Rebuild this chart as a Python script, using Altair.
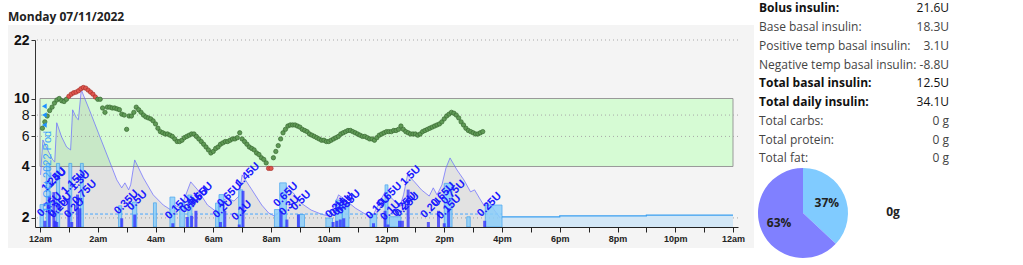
import altair as alt
import pandas as pd

# ---------------- layout ----------------
W, H = 703, 187
L, T = 35, 40

# ---------------- data ----------------
title_text = "Monday 07/11/2022"

# CGM readings (mmol/L), one every 5 minutes starting 00:05
bg_first_min = 5
bg_step_min = 5
bg_values = [
    6.7, 7.3, 7.9, 8.5, 8.9, 9.4, 9.8, 10.0, 9.7, 9.6, 9.9, 10.3,
    10.6, 10.8, 10.9, 11.1, 11.4, 11.6, 11.5, 11.2, 10.9, 10.6, 10.2, 9.9,
    9.9, 8.8, 8.3, 8.9, 8.9, 8.8, 8.8, 8.7, 8.6, 8.1, 8.0, 6.6,
    7.9, 7.9, 8.3, 8.9, 8.6, 8.3, 8.0, 7.8, 7.7, 7.6, 7.4, 7.1,
    6.7, 6.4, 6.3, 6.2, 6.2, 6.1, 6.0, 5.8, 5.6, 5.6, 5.7, 5.9,
    6.0, 6.1, 6.2, 6.2, 6.0, 5.8, 5.6, 5.4, 5.2, 5.0, 4.8, 4.9,
    5.1, 5.2, 5.4, 5.5, 5.6, 5.6, 5.7, 5.8, 5.8, 5.9, 6.3, 5.8,
    5.6, 5.4, 5.2, 5.1, 5.0, 4.8, 4.7, 4.5, 4.4, 4.2, 3.9, 3.9,
    4.5, 4.9, 5.3, 5.8, 6.3, 6.6, 6.9, 7.0, 7.0, 7.0, 6.9, 6.8,
    6.6, 6.5, 6.4, 6.2, 6.1, 6.0, 5.9, 5.8, 5.7, 5.7, 5.6, 5.6,
    5.7, 5.8, 5.9, 6.0, 6.2, 6.3, 6.4, 6.5, 6.5, 6.4, 6.3, 6.2,
    6.1, 6.0, 6.0, 5.9, 5.8, 5.8, 5.7, 5.9, 6.1, 6.2, 6.3, 6.4,
    6.4, 6.4, 6.5, 6.5, 6.6, 6.9, 6.6, 6.4, 6.3, 6.2, 6.2, 6.2,
    6.1, 6.2, 6.4, 6.5, 6.6, 6.7, 6.8, 6.9, 7.0, 7.1, 7.3, 7.6,
    7.9, 8.1, 8.3, 8.2, 8.0, 7.7, 7.3, 7.0, 6.7, 6.5, 6.4, 6.3,
    6.2, 6.2, 6.3, 6.4,
]

# insulin on board trace (hour of day, units)
iob_hours = [0.02, 0.10, 0.27, 0.44, 0.51, 0.58, 0.75, 0.92, 1.06, 1.13, 1.26, 1.33,
             1.43, 1.71, 2.05, 2.39, 2.66, 2.83, 2.94, 3.07, 3.14, 3.28, 3.58, 3.92,
             4.27, 4.54, 4.64, 4.88, 5.05, 5.22, 5.46, 5.80, 6.08, 6.25, 6.48, 6.72,
             6.89, 7.00, 7.34, 7.68, 7.92, 8.12, 8.29, 8.53, 8.77, 9.04, 9.39, 9.73,
             10.00, 10.17, 10.34, 10.58, 10.92, 11.26, 11.50, 11.71, 11.95, 12.18,
             12.46, 12.59, 12.73, 12.97, 13.21, 13.48, 13.62, 13.75, 13.92, 14.06,
             14.20, 14.44, 14.68, 14.91, 15.05, 15.26, 15.39, 15.53, 15.73, 15.94]
iob_units = [2.09, 3.49, 3.09, 2.69, 2.61, 4.18, 3.61, 3.21, 3.09, 4.70, 4.38, 4.30,
             5.50, 4.70, 3.69, 2.69, 1.89, 1.57, 1.77, 1.49, 1.69, 2.69, 1.97, 1.29,
             0.88, 0.68, 0.88, 0.76, 1.29, 1.81, 1.49, 0.88, 0.64, 1.00, 1.16, 1.04,
             1.24, 2.09, 1.49, 0.88, 0.56, 0.44, 0.60, 1.61, 1.37, 0.96, 0.68, 0.52,
             0.44, 0.80, 1.29, 1.08, 0.76, 0.52, 0.40, 0.88, 1.41, 1.16,
             0.80, 1.29, 2.09, 1.81, 1.49, 1.24, 1.57, 1.29, 1.69, 2.37,
             2.77, 2.29, 1.89, 1.41, 1.49, 1.08, 0.84, 1.08, 0.68, 0.36]

# boluses (hour of day, units)
bolus_hours = [0.17, 0.32, 0.48, 0.52, 0.58, 1.00, 1.10, 1.30, 1.38, 2.83, 3.28,
               4.60, 5.10, 5.25, 5.40, 6.25, 6.40, 6.90, 7.03, 8.35, 8.55, 8.95,
               10.15, 10.28, 10.40, 10.52, 11.55, 11.95, 12.05, 12.45, 12.55, 12.75,
               13.45, 13.80, 14.00, 14.15, 15.40]
bolus_units = [0.25, 1.25, 1.4, 0.25, 0.2, 1.15, 0.2, 1.3, 0.75, 0.35, 0.5,
               0.15, 0.4, 0.45, 0.65, 0.2, 0.65, 0.1, 1.45, 0.65, 0.3, 0.5,
               0.2, 0.25, 0.3, 0.35, 0.15, 0.65, 0.1, 0.25, 0.25, 1.5,
               0.2, 0.65, 0.15, 0.75, 0.25]

# temp basals (start hour, end hour, U/h)
tb_start = [0.00, 0.22, 0.57, 1.00, 1.40, 2.72, 3.20, 3.93, 4.50, 4.84, 5.12, 6.08,
            6.20, 6.88, 8.12, 8.30, 8.93, 9.90, 10.24, 10.47, 11.43, 11.95, 12.10,
            14.00, 14.78, 15.42]
tb_end = [0.12, 0.34, 0.68, 1.10, 1.50, 2.83, 3.35, 4.03, 4.67, 5.00, 5.26, 6.20,
          6.37, 7.02, 8.30, 8.53, 9.16, 10.13, 10.47, 10.70, 11.66, 12.05, 12.50,
          14.27, 14.90, 16.00]
tb_rate = [0.90, 2.55, 2.55, 2.55, 2.55, 0.85, 1.00, 0.97, 1.20, 0.97, 1.28, 0.96,
           1.30, 1.49, 0.70, 1.77, 0.50, 0.36, 1.08, 0.90, 0.50, 1.69, 0.41,
           1.75, 0.41, 0.88]

sched_rate = 0.52
sched_from, sched_to = 0.0, 16.0
profile_hours = [16.0, 18.0, 21.0, 24.0]
profile_rates = [0.41, 0.45, 0.48, 0.48]

site_hour = 0.15
site_marks = [9.0, 8.0, 7.0]
pod_text = "11 Oct 2022 Pod"
pod_hour, pod_bg = 0.26, 2.15

target_low, target_high = 4, 10
y_ticks = [2, 4, 6, 8, 10, 22]
grid_vals = [2, 6, 8, 22]

stat_labels = ["Bolus insulin:", "Base basal insulin:", "Positive temp basal insulin:",
               "Negative temp basal insulin:", "Total basal insulin:", "Total daily insulin:",
               "Total carbs:", "Total protein:", "Total fat:"]
stat_values = ["21.6U", "18.3U", "3.1U", "-8.8U", "12.5U", "34.1U", "0 g", "0 g", "0 g"]
stat_bold = [True, False, False, False, True, True, False, False, False]

pie_parts = ["basal", "bolus"]
pie_pct = [37, 63]
pie_colors = ["#80cbff", "#8080ff"]
pie_side_text = "0g"

# ---------------- frames ----------------
bg_df = pd.DataFrame({
    "h": [(bg_first_min + bg_step_min * i) / 60 for i in range(len(bg_values))],
    "bg": bg_values,
})
iob_df = pd.DataFrame({"h": iob_hours, "u": iob_units})
bolus_df = pd.DataFrame({"h": bolus_hours, "u": bolus_units})
tb_df = pd.DataFrame({"s": tb_start, "e": tb_end, "r": tb_rate})
prof_df = pd.DataFrame({"h": profile_hours, "r": profile_rates})
sched_df = pd.DataFrame({"h0": [sched_from], "h1": [sched_to], "r": [sched_rate]})
site_df = pd.DataFrame({"h": [site_hour] * len(site_marks), "bg": site_marks})
pod_df = pd.DataFrame({"h": [pod_hour], "bg": [pod_bg], "t": [pod_text]})
band_df = pd.DataFrame({"x0": [0], "x1": [24], "lo": [target_low], "hi": [target_high]})
grid_df = pd.DataFrame({"v": grid_vals})
stats_df = pd.DataFrame({"label": stat_labels, "value": stat_values, "bold": stat_bold})
pie_df = pd.DataFrame({"part": pie_parts, "pct": pie_pct})
one = pd.DataFrame({"k": [0]})

# ---------------- scales / axes ----------------
XSCALE = alt.Scale(domain=[0, 24], nice=False, zero=False)
XAXIS = alt.Axis(
    values=list(range(25)), title=None, grid=False, tickSize=5, tickColor="#222",
    domainColor="#222", labelFont="Liberation Sans", labelFontSize=9,
    labelFontWeight="bold", labelColor="#222", labelPadding=2, labelFlush=False,
    labelOverlap=False, zindex=1,
    labelExpr="datum.value % 2 == 1 ? '' : (datum.value % 24 == 0 ? '12am' : "
              "(datum.value < 12 ? datum.value + 'am' : (datum.value == 12 ? '12pm' : "
              "(datum.value - 12) + 'pm')))",
)
BGS = alt.Scale(type="log", domain=[1.77, 22], nice=False, zero=False)
INS = alt.Scale(domain=[0, 7.5], nice=False, zero=True)
YAXIS = alt.Axis(
    values=y_ticks, title=None, grid=False, tickSize=4, tickColor="#333",
    domainColor="#333", labelFont="Liberation Sans", labelFontSize=14,
    labelColor="#111", labelPadding=2, zindex=1,
    labelFontWeight={"condition": {"test": "datum.value == 8 || datum.value == 6",
                                   "value": "normal"}, "value": "bold"},
)


def X(f):
    return alt.X(f"{f}:Q", scale=XSCALE, axis=XAXIS)


def YB(f, axis=None):
    return alt.Y(f"{f}:Q", scale=BGS, axis=axis)


def YI(f):
    return alt.Y(f"{f}:Q", scale=INS, axis=None)


layers = []

# panel background
layers.append(alt.Chart(one).mark_rect(fill="#f4f4f4").encode(
    x=alt.value(8 - L), x2=alt.value(754 - L), y=alt.value(25 - T), y2=alt.value(248 - T)))

# title
layers.append(alt.Chart(pd.DataFrame({"t": [title_text]})).mark_text(
    align="left", baseline="middle", font="Open Sans", fontSize=12, fontWeight="bold",
    color="#222").encode(x=alt.value(8 - L), y=alt.value(17 - T), text="t:N"))

# target band
layers.append(alt.Chart(band_df).mark_rect(fill="#d6fbd4", stroke="#999999", strokeWidth=1).encode(
    x=X("x0"), x2="x1", y=YB("lo"), y2="hi"))

# grid
layers.append(alt.Chart(grid_df).mark_rule(color="#a8a8a8", strokeDash=[1, 3], strokeWidth=1).encode(
    y=YB("v")))

# IOB
layers.append(alt.Chart(iob_df).mark_area(color="#7a7a7a", opacity=0.14).encode(
    x=X("h"), y=YI("u")))
layers.append(alt.Chart(iob_df).mark_line(color="#6a6aff", strokeWidth=0.9, opacity=0.8).encode(
    x=X("h"), y=YI("u")))

# scheduled basal
layers.append(alt.Chart(sched_df).mark_rule(color="#4aa8ff", strokeDash=[3, 2], strokeWidth=1).encode(
    x=X("h0"), x2="h1", y=YI("r")))

# profile basal after last temp
layers.append(alt.Chart(prof_df).mark_area(interpolate="step-after", color="#d3e7f6").encode(
    x=X("h"), y=YI("r")))
layers.append(alt.Chart(prof_df).mark_line(interpolate="step-after", color="#3a9ff0", strokeWidth=1.2).encode(
    x=X("h"), y=YI("r")))

# temp basals
layers.append(alt.Chart(tb_df).transform_calculate(z="0").mark_rect(
    fill="#8ccffa", stroke="#3a9ff0", strokeWidth=0.8, opacity=0.85).encode(
    x=X("s"), x2="e", y=YI("r"), y2="z:Q"))

# bolus bars
layers.append(alt.Chart(bolus_df).mark_bar(width=3, color="#2b2bff", opacity=0.75).encode(
    x=X("h"), y=YI("u")))

# bolus labels
layers.append(alt.Chart(bolus_df).transform_calculate(lbl="datum.u + 'U'").mark_text(
    angle=315, align="left", baseline="bottom", dy=-3, font="Liberation Sans",
    fontSize=11, fontWeight="bold", color="#1a1aff").encode(
    x=X("h"), y=YI("u"), text="lbl:N"))

# BG readings
out_of_range = f"datum.bg > {target_high} || datum.bg < {target_low}"
layers.append(alt.Chart(bg_df).mark_circle(size=19, opacity=1, strokeWidth=0.7).encode(
    x=X("h"), y=YB("bg", YAXIS),
    fill=alt.condition(out_of_range, alt.value("#e0554e"), alt.value("#5f9a55")),
    stroke=alt.condition(out_of_range, alt.value("#a8332d"), alt.value("#3b6a33"))))

# site change markers + pod text
layers.append(alt.Chart(site_df).mark_point(shape="triangle-left", filled=True, size=30,
                                            color="#1e90ff", opacity=1).encode(
    x=X("h"), y=YB("bg")))
layers.append(alt.Chart(pod_df).mark_text(angle=270, align="left", baseline="middle",
                                          font="Liberation Sans", fontSize=11,
                                          color="#3aa0ff").encode(
    x=X("h"), y=YB("bg"), text="t:N"))

# stats
row_y = "-31.7 + 18.75 * (datum.row - 1)"
stats_base = alt.Chart(stats_df).transform_window(row="row_number()").transform_calculate(yy=row_y)
for flag, color, weight in [(False, "#444444", "normal"), (True, "#111111", "bold")]:
    sub = stats_base.transform_filter(f"datum.bold == {str(flag).lower()}")
    layers.append(sub.mark_text(align="left", baseline="middle", font="Open Sans", fontSize=12,
                                fontWeight=weight, color=color).encode(
        x=alt.value(759 - L), y=alt.Y("yy:Q", scale=None, axis=None), text="label:N"))
    layers.append(sub.mark_text(align="right", baseline="middle", font="Open Sans", fontSize=12,
                                fontWeight="normal", color=color).encode(
        x=alt.value(949 - L), y=alt.Y("yy:Q", scale=None, axis=None), text="value:N"))

# pie
PX, PY = 803 - L, 213 - T
layers.append(alt.Chart(pie_df).mark_arc(outerRadius=45).encode(
    theta=alt.Theta("pct:Q", stack=True),
    color=alt.Color("part:N", scale=alt.Scale(domain=pie_parts, range=pie_colors), legend=None),
    x=alt.value(PX), y=alt.value(PY)))
layers.append(alt.Chart(pie_df).transform_calculate(lbl="datum.pct + '%'").mark_text(
    radius=26, font="Open Sans", fontSize=12, fontWeight="bold", color="#222").encode(
    theta=alt.Theta("pct:Q", stack=True), detail="part:N", text="lbl:N",
    x=alt.value(PX), y=alt.value(PY)))
layers.append(alt.Chart(pd.DataFrame({"t": [pie_side_text]})).mark_text(
    font="Open Sans", fontSize=12, fontWeight="bold", color="#222").encode(
    x=alt.value(893 - L), y=alt.value(212 - T), text="t:N"))

chart = alt.layer(*layers).resolve_scale(y="independent").properties(
    width=W, height=H,
    padding={"left": L, "top": T, "right": 1023 - L - W, "bottom": 265 - T - H},
    autosize=alt.AutoSizeParams(type="none"),
    background="white",
).configure_view(stroke="transparent")

chart.save("out.html", embed_options={"renderer": "svg", "actions": False})
